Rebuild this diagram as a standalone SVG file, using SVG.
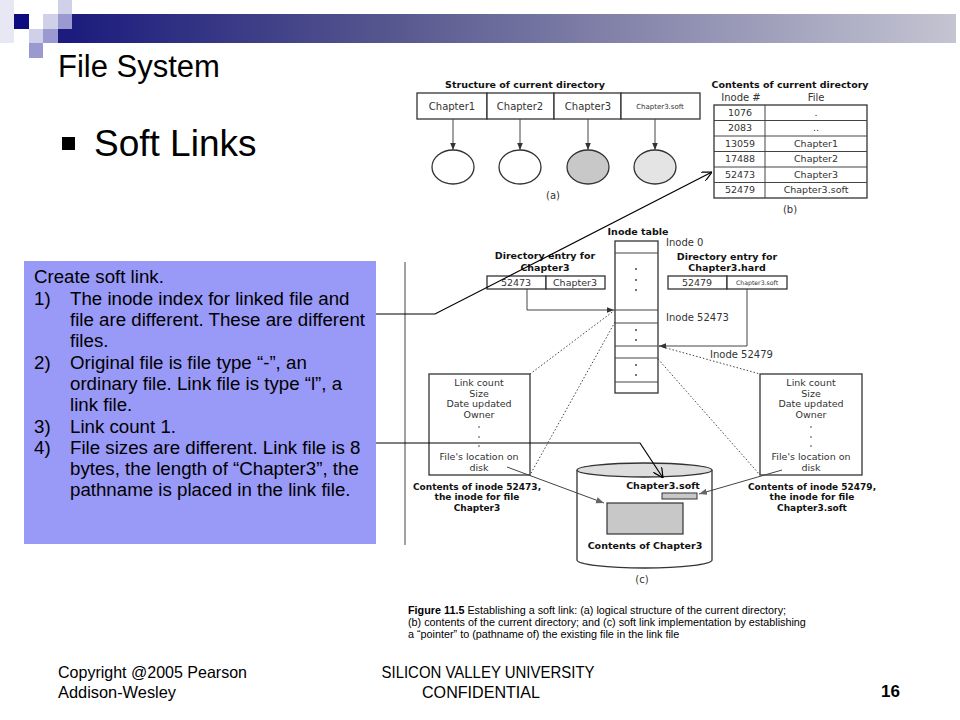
<svg xmlns="http://www.w3.org/2000/svg" width="960" height="720" viewBox="0 0 960 720">
<defs>
<linearGradient id="bar" x1="0" y1="0" x2="1" y2="0">
<stop offset="0" stop-color="#1c1c7e"/>
<stop offset="0.35" stop-color="#55558e"/>
<stop offset="1" stop-color="#c4c4d2"/>
</linearGradient>
<marker id="ah" viewBox="0 0 10 10" refX="10" refY="5" markerWidth="7" markerHeight="7" orient="auto-start-reverse" markerUnits="userSpaceOnUse">
<path d="M0,1 L10,5 L0,9 z" fill="#333"/>
</marker>
<marker id="ahg" viewBox="0 0 10 10" refX="10" refY="5" markerWidth="8" markerHeight="8" orient="auto" markerUnits="userSpaceOnUse">
<path d="M0,1 L10,5 L0,9 z" fill="#666"/>
</marker>
<marker id="open" viewBox="0 0 10 10" refX="10" refY="5" markerWidth="10" markerHeight="10" orient="auto" markerUnits="userSpaceOnUse">
<path d="M0,0 L10,5 L0,10" fill="none" stroke="#000" stroke-width="1.2"/>
</marker>
</defs>
<style>
.fig{font-family:"DejaVu Sans","Open Sans",sans-serif;fill:#333}
.fb{font-family:"DejaVu Sans","Open Sans",sans-serif;font-weight:bold;fill:#111}
.box{fill:#fff;stroke:#333;stroke-width:1.3}
.ln{fill:none;stroke:#444;stroke-width:1}
.dot{fill:none;stroke:#444;stroke-width:1;stroke-dasharray:1.5 2}
.txt{font-family:"Liberation Sans",Arial,sans-serif;fill:#000}
</style>
<rect width="960" height="720" fill="#fff"/>
<g id="decoration">
<rect x="0" y="0" width="14" height="43" fill="#e8e8f4"/>
<rect x="58" y="0" width="14" height="14" fill="#d0d0e8"/>
<rect x="14" y="14" width="15" height="15" fill="#0c0c80"/>
<rect x="43" y="14" width="15" height="15" fill="#d0d0e8"/>
<rect x="58" y="14" width="14" height="15" fill="#9a9ad0"/>
<rect x="29" y="29" width="14" height="14" fill="#d0d0e8"/>
<rect x="43" y="29" width="15" height="14" fill="#9a9ad0"/>
<rect x="29" y="43" width="14" height="15" fill="#9a9ad0"/>
<rect x="58" y="29" width="14" height="14" fill="#1c1c7e"/>
<rect x="72" y="14" width="884" height="29" fill="url(#bar)"/>
</g>
<g id="title">
<text class="txt" x="58" y="77" font-size="31">File System</text>
<rect x="62" y="137" width="13" height="13" fill="#000"/>
<text class="txt" x="94" y="156" font-size="37">Soft Links</text>
</g>
<g id="fig-a">
<text class="fb" x="525" y="88" font-size="9.5" text-anchor="middle">Structure of current directory</text>
<rect class="box" x="417" y="93" width="70" height="26"/>
<rect class="box" x="487" y="93" width="67" height="26"/>
<rect class="box" x="554" y="93" width="67" height="26"/>
<rect class="box" x="621" y="93" width="79" height="26"/>
<text class="fig" x="452" y="110" font-size="10" text-anchor="middle">Chapter1</text>
<text class="fig" x="520" y="110" font-size="10" text-anchor="middle">Chapter2</text>
<text class="fig" x="588" y="110" font-size="10" text-anchor="middle">Chapter3</text>
<text class="fig" x="660" y="109" font-size="7" text-anchor="middle">Chapter3.soft</text>
<ellipse cx="453" cy="167" rx="21" ry="17" fill="#fff" stroke="#333" stroke-width="1.3"/>
<ellipse cx="520" cy="167" rx="21" ry="17" fill="#fff" stroke="#333" stroke-width="1.3"/>
<ellipse cx="588" cy="167" rx="21" ry="17" fill="#c8c8c8" stroke="#333" stroke-width="1.3"/>
<ellipse cx="655" cy="167" rx="21" ry="17" fill="#e4e4e4" stroke="#333" stroke-width="1.3"/>
<text class="fig" x="553" y="199" font-size="10" text-anchor="middle">(a)</text>
</g>
<g id="fig-b">
<text class="fb" x="790" y="88" font-size="9.5" text-anchor="middle">Contents of current directory</text>
<text class="fig" x="741" y="101" font-size="10" text-anchor="middle">Inode #</text>
<text class="fig" x="816" y="101" font-size="10" text-anchor="middle">File</text>
<rect x="714" y="105" width="153" height="93" fill="#fff" stroke="#333" stroke-width="1.3"/>
<path class="ln" stroke="#333" d="M765,105 V198 M714,120.5 H867 M714,136 H867 M714,151.5 H867 M714,167 H867 M714,182.5 H867"/>
<g class="fig" font-size="9.5" text-anchor="middle">
<text x="740" y="116">1076</text><text x="816" y="116">.</text>
<text x="740" y="131">2083</text><text x="816" y="131">..</text>
<text x="740" y="147">13059</text><text x="816" y="147">Chapter1</text>
<text x="740" y="162">17488</text><text x="816" y="162">Chapter2</text>
<text x="740" y="178">52473</text><text x="816" y="178">Chapter3</text>
<text x="740" y="193">52479</text><text x="816" y="193">Chapter3.soft</text>
</g>
<text class="fig" x="790" y="213" font-size="10" text-anchor="middle">(b)</text>
</g>
<g id="inode-table">
<text class="fb" x="638" y="235" font-size="9.5" text-anchor="middle">Inode table</text>
<rect x="615" y="241" width="43" height="152" fill="#fff" stroke="#333" stroke-width="1.3"/>
<path class="ln" stroke="#333" stroke-width="1.2" d="M615,253 H658 M615,310 H658 M615,323 H658 M615,346 H658 M615,358 H658 M615,382 H658"/>
<g fill="#333">
<circle cx="636" cy="269" r="0.9"/><circle cx="636" cy="280" r="0.9"/><circle cx="636" cy="290" r="0.9"/>
<circle cx="636" cy="330" r="0.9"/><circle cx="636" cy="340" r="0.9"/>
<circle cx="636" cy="365" r="0.9"/><circle cx="636" cy="375" r="0.9"/>
</g>
<text class="fig" x="666" y="246" font-size="10">Inode 0</text>
<text class="fig" x="666" y="321" font-size="10">Inode 52473</text>
<text class="fig" x="710" y="358" font-size="10">Inode 52479</text>
</g>
<g id="dir-entry-ch3">
<text class="fb" x="545" y="259" font-size="9.5" text-anchor="middle">Directory entry for</text>
<text class="fb" x="545" y="271" font-size="9.5" text-anchor="middle">Chapter3</text>
<rect class="box" x="487" y="276" width="59" height="13"/>
<rect class="box" x="546" y="276" width="59" height="13"/>
<text class="fig" x="516" y="286" font-size="9.5" text-anchor="middle">52473</text>
<text class="fig" x="575" y="286" font-size="9.5" text-anchor="middle">Chapter3</text>
</g>
<g id="dir-entry-soft">
<text class="fb" x="727" y="259.5" font-size="9.5" text-anchor="middle">Directory entry for</text>
<text class="fb" x="727" y="271" font-size="9.5" text-anchor="middle">Chapter3.hard</text>
<rect class="box" x="668" y="276" width="59" height="13"/>
<rect class="box" x="727" y="276" width="60" height="13"/>
<text class="fig" x="697" y="286" font-size="9.5" text-anchor="middle">52479</text>
<text class="fig" x="757" y="285" font-size="6.2" text-anchor="middle">Chapter3.soft</text>
</g>
<g id="inode-52473">
<rect class="box" x="429" y="374" width="101" height="101"/>
<g class="fig" font-size="9.5" text-anchor="middle">
<text x="479" y="386">Link count</text>
<text x="479" y="397">Size</text>
<text x="479" y="407">Date updated</text>
<text x="479" y="418">Owner</text>
<text x="479" y="460">File's location on</text>
<text x="479" y="471">disk</text>
</g>
<g fill="#333"><circle cx="479" cy="427" r="0.8"/><circle cx="479" cy="437" r="0.8"/><circle cx="479" cy="446" r="0.8"/></g>
<g class="fb" font-size="9" text-anchor="middle">
<text x="477" y="490">Contents of inode 52473,</text>
<text x="477" y="500">the inode for file</text>
<text x="477" y="511">Chapter3</text>
</g>
</g>
<g id="inode-52479">
<rect class="box" x="760" y="374" width="102" height="101"/>
<g class="fig" font-size="9.5" text-anchor="middle">
<text x="811" y="386">Link count</text>
<text x="811" y="397">Size</text>
<text x="811" y="407">Date updated</text>
<text x="811" y="418">Owner</text>
<text x="811" y="460">File's location on</text>
<text x="811" y="471">disk</text>
</g>
<g fill="#333"><circle cx="811" cy="427" r="0.8"/><circle cx="811" cy="437" r="0.8"/><circle cx="811" cy="446" r="0.8"/></g>
<g class="fb" font-size="9" text-anchor="middle">
<text x="812" y="490">Contents of inode 52479,</text>
<text x="812" y="500">the inode for file</text>
<text x="812" y="511">Chapter3.soft</text>
</g>
</g>
<g id="disk">
<path d="M577,470 V560 A67.5,8 0 0 0 712,560 V470" fill="#fff" stroke="#333" stroke-width="1.3"/>
<ellipse cx="644.5" cy="470" rx="67.5" ry="7" fill="#ddd" stroke="#333" stroke-width="1.3"/>
<text class="fb" x="663" y="489" font-size="9.5" text-anchor="middle">Chapter3.soft</text>
<rect x="662" y="493" width="35" height="6" fill="#c8c8c8" stroke="#333" stroke-width="1"/>
<rect x="607" y="503" width="76" height="31" fill="#c8c8c8" stroke="#333" stroke-width="1.2"/>
<text class="fb" x="645" y="549" font-size="9.5" text-anchor="middle">Contents of Chapter3</text>
<text class="fig" x="642" y="583" font-size="10" text-anchor="middle">(c)</text>
</g>
<g id="caption" class="txt" font-size="10.8" fill="#222">
<text x="408" y="614"><tspan font-weight="bold">Figure 11.5</tspan>  Establishing a soft link: (a) logical structure of the current directory;</text>
<text x="408" y="626">(b) contents of the current directory; and (c) soft link implementation by establishing</text>
<text x="408" y="638">a “pointer” to (pathname of) the existing file in the link file</text>
</g>
<g id="note">
<rect x="24" y="261" width="352" height="283" fill="#9999f7"/>
<g class="txt" font-size="18.7">
<text x="34" y="283">Create soft link.</text>
<text x="34" y="305">1)</text><text x="70" y="305">The inode index for linked file and</text>
<text x="70" y="326">file are different. These are different</text>
<text x="70" y="347">files.</text>
<text x="34" y="369">2)</text><text x="70" y="369">Original file is file type “-”, an</text>
<text x="70" y="390">ordinary file. Link file is type “l”, a</text>
<text x="70" y="411">link file.</text>
<text x="34" y="433">3)</text><text x="70" y="433">Link count 1.</text>
<text x="34" y="454">4)</text><text x="70" y="454">File sizes are different. Link file is 8</text>
<text x="70" y="475">bytes, the length of “Chapter3”, the</text>
<text x="70" y="496">pathname is placed in the link file.</text>
</g>
</g>
<g id="connectors">
<path class="ln" d="M453,119 V150" stroke="#555" marker-end="url(#ah)"/>
<path class="ln" d="M520,119 V150" stroke="#555" marker-end="url(#ah)"/>
<path class="ln" d="M588,119 V150" stroke="#555" marker-end="url(#ah)"/>
<path class="ln" d="M655,119 V150" stroke="#555" marker-end="url(#ah)"/>
<path class="ln" d="M405,262 V545" stroke="#333" stroke-width="1.3"/>
<path class="ln" d="M527,289 V310 H614" marker-end="url(#ah)"/>
<path class="ln" d="M747,289 V346 H659" marker-end="url(#ah)"/>
<path class="dot" d="M615,310 L530,374"/>
<path class="dot" d="M615,322 L530,475"/>
<path class="dot" d="M659,346 L760,374"/>
<path class="dot" d="M658,359 L760,475"/>
<path class="ln" stroke="#666" d="M507,467 L604,503" marker-end="url(#ahg)"/>
<path class="ln" stroke="#666" d="M782,470 L699,494" marker-end="url(#ahg)"/>
<path d="M376,314 H435 L712,172" fill="none" stroke="#000" stroke-width="1.2" marker-end="url(#open)"/>
<path d="M376,443 H640 L663,478" fill="none" stroke="#000" stroke-width="1.2" marker-end="url(#open)"/>
</g>
<g id="footer" class="txt">
<text x="58" y="678" font-size="16.5" textLength="189" lengthAdjust="spacingAndGlyphs">Copyright @2005 Pearson</text>
<text x="58" y="698" font-size="16.5" textLength="118" lengthAdjust="spacingAndGlyphs">Addison-Wesley</text>
<text x="488" y="678" font-size="16.5" text-anchor="middle" textLength="213" lengthAdjust="spacingAndGlyphs">SILICON VALLEY UNIVERSITY</text>
<text x="481" y="698" font-size="16.5" text-anchor="middle" textLength="118" lengthAdjust="spacingAndGlyphs">CONFIDENTIAL</text>
<text x="900" y="697" font-size="17" font-weight="bold" text-anchor="end">16</text>
</g>
</svg>
